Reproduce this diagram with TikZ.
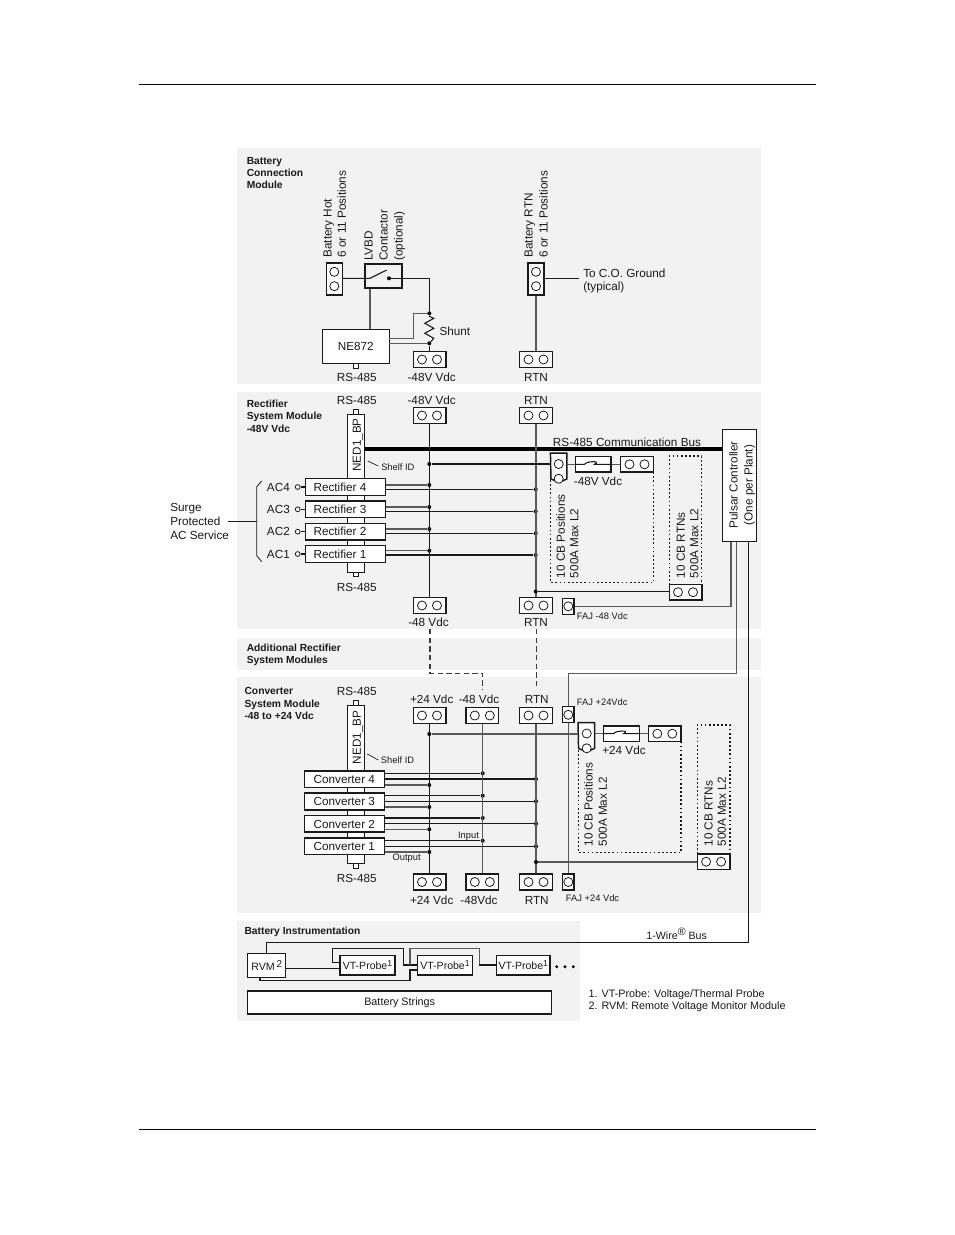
\documentclass[tikz,border=0pt]{standalone}
\usepackage{fontspec}
\setmainfont{Liberation Sans}
\usetikzlibrary{calc}
\definecolor{panelgray}{HTML}{F2F2F2}
\definecolor{wiregray}{HTML}{5A5A5A}
\definecolor{inkdark}{HTML}{1A1A1A}
\newcommand{\supnum}[1]{\raisebox{2.6pt}{\fontsize{6.5}{7}\selectfont #1}}
\tikzset{
  panel/.style={fill=panelgray,draw=none},
  boxn/.style={draw=inkdark,fill=white,line width=1.1pt,inner sep=0,text=inkdark},
  hconnbox/.style={boxn,minimum width=24.4pt,minimum height=11.8pt},
  vconnbox/.style={boxn,minimum width=12pt,minimum height=24pt},
  fajbox/.style={boxn,line width=.9pt,minimum width=8.4pt,minimum height=12pt},
  hole/.style={circle,draw=inkdark,line width=.6pt,fill=white,minimum size=6.8pt,inner sep=0},
  lbl/.style={font=\fontsize{8.8}{10}\selectfont,text=inkdark,inner sep=0,text height=6.4pt,text depth=0pt},
  lbr/.style={lbl,rotate=90,anchor=west},
  hdr/.style={font=\fontsize{7.7}{9}\bfseries\selectfont,text=inkdark,inner sep=0,anchor=west,text height=5.6pt,text depth=0pt},
  smalll/.style={font=\fontsize{7}{8}\selectfont,text=inkdark,inner sep=0,text height=5pt,text depth=0pt},
  wire/.style={draw=inkdark,line width=.8pt},
  gwire/.style={draw=wiregray,line width=1.1pt},
  dotw/.style={draw=inkdark,line width=.9pt,dash pattern=on 1.3pt off 1.8pt},
  dashw/.style={draw=inkdark!85,line width=.9pt,dash pattern=on 4pt off 2.5pt},
  jd/.style={circle,fill=black,inner sep=0,minimum size=3pt},
  stubn/.style={draw=inkdark,fill=white,line width=.7pt,inner sep=0,minimum width=4pt,minimum height=4pt},
  rbox/.style={boxn,minimum width=60pt,minimum height=12.6pt,font=\fontsize{8.8}{10}\selectfont},
  stripn/.style={draw=inkdark,fill=white,line width=.7pt,inner sep=0,minimum width=13pt},
}
\newcommand{\hconn}[3]{%
  \node[hconnbox] (#1) at (#2,#3) {};
  \node[hole] (#1-a) at ($(#1)+(-7.5,0)$) {};
  \node[hole] (#1-b) at ($(#1)+(7.5,0)$) {};}
\newcommand{\vconn}[3]{%
  \node[vconnbox] (#1) at (#2,#3) {};
  \node[hole] (#1-a) at ($(#1)+(0,-7.2)$) {};
  \node[hole] (#1-b) at ($(#1)+(0,7.2)$) {};}
\newcommand{\fajn}[3]{%
  \node[fajbox] (#1) at (#2,#3) {};
  \node[hole] (#1-a) at (#1) {};}
\begin{document}
\begin{tikzpicture}[x=0.75pt,y=-0.75pt]
\useasboundingbox (0,0) rectangle (954,1235);
\fill[white] (0,0) rectangle (954,1235);
% page rules
\coordinate (ruleTL) at (139,84.5); \coordinate (ruleTR) at (816,84.5);
\coordinate (ruleBL) at (139,1129.5); \coordinate (ruleBR) at (816,1129.5);
\draw[black,line width=.8pt] (ruleTL) -- (ruleTR);
\draw[black,line width=.8pt] (ruleBL) -- (ruleBR);
% panels
\fill[panel] (237,148) rectangle (761,384);
\fill[panel] (237,392) rectangle (761,629);
\fill[panel] (237,638) rectangle (761,670);
\fill[panel] (237,677) rectangle (761,913);
\fill[panel] (237,921) rectangle (580,1021);
% headers
\node[hdr] (h1a) at (246.5,161) {Battery};
\node[hdr] (h1b) at (246.5,173) {Connection};
\node[hdr] (h1c) at (246.5,185) {Module};
\node[hdr] (h2a) at (246.5,404) {Rectifier};
\node[hdr] (h2b) at (246.5,416) {System Module};
\node[hdr] (h2c) at (246.5,428.3) {-48V Vdc};
\node[hdr] (h3a) at (246.5,647.7) {Additional Rectifier};
\node[hdr] (h3b) at (246.5,660) {System Modules};
\node[hdr] (h4a) at (244.3,690.5) {Converter};
\node[hdr] (h4b) at (244.3,703.3) {System Module};
\node[hdr] (h4c) at (244.3,716) {-48 to +24 Vdc};
\node[hdr] (h5) at (244.3,931) {Battery Instrumentation};

%%% Battery connection module
\vconn{bh}{334.3}{279}
\vconn{br}{536}{279}
\node[boxn,fill=panelgray,line width=1pt,minimum width=27.7pt,minimum height=18pt] (lvbd) at (383.5,276) {};
\node[boxn,minimum width=50.2pt,minimum height=25.5pt,font=\fontsize{8.8}{10}\selectfont] (ne) at (355.8,346.3) {NE872};
\node[stubn] (nes) at (355.8,366) {};
\hconn{bm}{429.5}{359.5}
\hconn{bt}{536}{359.5}
\node[lbr] (t1) at (327.3,257.7) {Battery Hot};
\node[lbr] (t2) at (341.7,257.7) {6 or 11 Positions};
\node[lbr] (t3) at (368.3,261) {LVBD};
\node[lbr] (t4) at (383.3,261) {Contactor};
\node[lbr] (t5) at (398.3,261) {(optional)};
\node[lbr] (t6) at (528.3,257.7) {Battery RTN};
\node[lbr] (t7) at (543.3,257.7) {6 or 11 Positions};
\node[lbl,anchor=west] (t8) at (583,273) {To C.O. Ground};
\node[lbl,anchor=west] (t9) at (583,286.5) {(typical)};
\node[lbl,anchor=west] (t10) at (439.3,331) {Shunt};
\node[lbl] (t11) at (356.7,377) {RS-485};
\node[lbl] (t12) at (431.7,377) {-48V Vdc};
\node[lbl] (t13) at (536,377) {RTN};
\coordinate (swa) at (370,278.3);
\coordinate (swb) at (386.7,270);
\node[jd] (swd) at (389,278.3) {};
\coordinate (swe) at (429.3,278.3);
\node[jd] (sht) at (429.3,313.3) {};
\node[jd] (shb) at (429.3,343.3) {};
\coordinate (cox) at (579,278.3);
\draw[wire] (bh.east |- swa) -- (swa) -- (swb);
\draw[wire] (swd) -- (swe) -- (sht);
\draw[wire] (sht) -- ++(0,3) -- ++(4.5,2) -- ++(-9,5) -- ++(9,5) -- ++(-9,5) -- ++(9,5) -- (shb);
\draw[wire] (shb) -- (bm.north -| shb);
\draw[gwire] (lvbd.south -| 370,0) -- (ne.north -| 370,0);
\coordinate (nt1) at (389.3,338.3);
\coordinate (nt2) at (413.3,338.3);
\coordinate (nt3) at (413.3,313.3);
\coordinate (nt4) at (389.3,343.3);
\draw[gwire] (nt1) -- (nt2) -- (nt3) -- (sht);
\draw[gwire] (nt4) -- (shb);
\draw[wire] (br.east |- cox) -- (cox);
\draw[gwire] (br) -- (bt);

%%% Rectifier system module
\node[stubn] (rs1) at (356,412) {};
\node[stubn] (rs2) at (356,574) {};
\node[stripn,minimum height=118.5pt] (rned) at (356.2,493) {};
\node[lbl,rotate=90] (rnedt) at (356.7,445) {NED1\_BP};
\node[lbl] (t20) at (356.7,400) {RS-485};
\node[lbl] (t21) at (431.7,400) {-48V Vdc};
\node[lbl] (t22) at (536,400) {RTN};
\node[lbl] (t23) at (356.7,587) {RS-485};
\node[lbl] (t24) at (428.5,622.3) {-48 Vdc};
\node[lbl] (t25) at (536,622) {RTN};
\hconn{rm}{429.5}{415.5}
\hconn{rt}{536}{415.5}
\hconn{rmb}{429.5}{605.5}
\hconn{rtb}{536}{605.5}
\node[boxn,minimum width=25.8pt,minimum height=84.3pt] (puls) at (739.5,485.5) {};
\node[lbl,rotate=90] (t26) at (733.3,485) {Pulsar Controller};
\node[lbl,rotate=90] (t27) at (748.3,485) {(One per Plant)};
\node[lbl] (t28) at (627,442.7) {RS-485 Communication Bus};
\node[lbl] (t29) at (598,481.7) {-48V Vdc};
\node[lbr] (t30) at (560.7,578.3) {10 CB Positions};
\node[lbr] (t31) at (574,578.3) {500A Max L2};
\node[lbr] (t32) at (680.7,578.3) {10 CB RTNs};
\node[lbr] (t33) at (694,578.3) {500A Max L2};
\node[smalll,anchor=west] (t34) at (576.7,616) {FAJ -48 Vdc};
\node[smalll,anchor=west] (t35) at (381,467) {Shelf ID};
\coordinate (sl1) at (367.7,461); \coordinate (sl2) at (378.3,466);
\draw[wire,line width=.5pt] (sl1) -- (sl2);
% dotted outlines
\coordinate (dc1) at (550.7,480); \coordinate (dc2) at (550.7,582.7);
\coordinate (dc3) at (653.3,582.7); \coordinate (dc4) at (653.3,472);
\draw[dotw] (dc1) -- (dc2) -- (dc3) -- (dc4);
\coordinate (dr1) at (669.3,585); \coordinate (dr2) at (669.3,456);
\coordinate (dr3) at (701.7,456); \coordinate (dr4) at (701.7,585);
\draw[dotw] (dr1) -- (dr2) -- (dr3) -- (dr4);
% bus
\coordinate (busl) at (365,449);
\draw[black,line width=2.3pt] (busl) -- (busl -| puls.west);
% CB connector
\node[inner sep=0,minimum width=12pt,minimum height=19pt] (cb1) at (558.7,466) {};
\draw[boxn] (cb1.north west) -- (cb1.north east) -- (cb1.south east) -- ++(-8,3.4) -- ++(-8,-3.4) -- cycle;
\node[hole] (cb1-a) at (558.7,464) {};
\node[hole] (cb1-b) at (558.7,478.7) {};
\node[boxn,minimum width=26.8pt,minimum height=11.8pt] (f1) at (593.2,464.3) {};
\hconn{f1c}{637}{464.3}
\draw[wire] (f1.west) -- ++(10,0) .. controls ++(2,-3.6) and ++(7,-3.6) .. ++(10,0) -- (f1.east);
\draw[gwire,line width=.8pt] (cb1.east |- f1) -- (f1.west);
\draw[gwire,line width=.8pt] (f1.east) -- (f1c.west);
\hconn{rr}{685.5}{592.2}
\fajn{rfaj}{568.3}{606.3}
% rectifiers
\foreach \n/\y/\a/\b/\w/\ac in {4/487/485/489.3/1.1/AC4,3/509.3/507/511.3/.8/AC3,2/531.7/529/533.3/.7/AC2,1/554/550.7/555/.9/AC1}{
  \node[rbox] (r\n) at (345.7,\y) {};
  \node[lbl] (rl\n) at (340,\y) {Rectifier \n};
  \node[lbl,anchor=west] (ra\n) at (266.7,\y) {\ac};
  \node[circle,draw=inkdark,line width=.6pt,fill=white,inner sep=0,minimum size=3.6pt] (rc\n) at (297.7,\y) {};
  \draw[wire] (rc\n) -- (r\n.west);
  \node[jd] (rd\n) at (429.3,\a) {};
  \node[jd] (re\n) at (535.7,\b) {};
  \draw[gwire] (rd\n -| r\n.east) -- (rd\n);
  \draw[draw=inkdark,line width=\w pt] (re\n -| r\n.east) -- (re\n);
}
\draw[wire] (rm) -- (rmb);
\draw[gwire] (rt) -- (rtb);
\node[jd] (rs) at (429.3,464) {};
\draw[wire] (rs) -- (cb1.west |- rs);
\node[jd] (rrj) at (535.7,591.5) {};
\draw[wire] (rrj) -- (rr.west |- rrj);
% brace
\coordinate (b1) at (261.7,481); \coordinate (b2) at (256.7,486.7);
\coordinate (b3) at (256.7,555.7); \coordinate (b4) at (261.7,561.7);
\coordinate (b5) at (256.7,521);
\draw[wire,line width=.6pt] (b1) -- (b2) -- (b3) -- (b4);
\node[lbl,anchor=west] (s1) at (170,507.3) {Surge};
\node[lbl,anchor=west] (s2) at (170,521) {Protected};
\node[lbl,anchor=west] (s3) at (170,535) {AC Service};
\draw[wire,line width=.6pt] (s2.east -| 228.3,0) -- (b5);
% controller wires
\coordinate (p1) at (731,541.7); \coordinate (p2) at (736.5,541.7); \coordinate (p3) at (748.7,541.7);
\draw[gwire,line width=.8pt] (p1) |- (rfaj.east);

%%% Converter system module
\node[stubn] (cs1) at (356,703) {};
\node[stubn] (cs2) at (356,865.5) {};
\node[stripn,minimum height=118.5pt] (cned) at (356.2,784.5) {};
\node[lbl,rotate=90] (cnedt) at (356.7,737.5) {NED1\_BP};
\node[lbl] (t40) at (356.7,691) {RS-485};
\node[lbl] (t41) at (431.7,699.3) {+24 Vdc};
\node[lbl] (t42) at (479,699.3) {-48 Vdc};
\node[lbl] (t43) at (536.7,699.3) {RTN};
\node[lbl] (t44) at (356.7,878.3) {RS-485};
\node[lbl] (t45) at (431.7,900) {+24 Vdc};
\node[lbl] (t46) at (479,900) {-48Vdc};
\node[lbl] (t47) at (536.7,900) {RTN};
\hconn{cp}{429.5}{715.5}
\hconn{cm}{482.3}{715.5}
\hconn{ct}{536}{715.5}
\hconn{cpb}{429.5}{882}
\hconn{cmb}{482.3}{882}
\hconn{ctb}{536}{882}
\fajn{cfaj}{568.3}{714.8}
\fajn{cfajb}{568.3}{882}
\node[smalll,anchor=west] (t48) at (576.7,702.3) {FAJ +24Vdc};
\node[smalll,anchor=west] (t49) at (565.7,898.3) {FAJ +24 Vdc};
\node[smalll] (t50) at (468.5,835) {Input};
\node[smalll] (t51) at (406.7,857.3) {Output};
\node[smalll,anchor=west] (t52) at (380.7,760) {Shelf ID};
\coordinate (sc1) at (367.3,754); \coordinate (sc2) at (378.3,760);
\draw[wire,line width=.5pt] (sc1) -- (sc2);
\node[lbl] (t53) at (624,750.7) {+24 Vdc};
\node[lbr] (t54) at (588.3,846.7) {10 CB Positions};
\node[lbr] (t55) at (602.7,846.7) {500A Max L2};
\node[lbr] (t56) at (708.3,846.7) {10 CB RTNs};
\node[lbr] (t57) at (721.7,846.7) {500A Max L2};
\coordinate (ec1) at (578.3,750); \coordinate (ec2) at (578.3,852.3);
\coordinate (ec3) at (681,852.3); \coordinate (ec4) at (681,741);
\draw[dotw] (ec1) -- (ec2) -- (ec3) -- (ec4);
\coordinate (er1) at (697.3,854); \coordinate (er2) at (697.3,725);
\coordinate (er3) at (730,725); \coordinate (er4) at (730,854);
\draw[dotw] (er1) -- (er2) -- (er3) -- (er4);
\node[inner sep=0,minimum width=12pt,minimum height=19pt] (cb2) at (586.3,735.5) {};
\draw[boxn] (cb2.north west) -- (cb2.north east) -- (cb2.south east) -- ++(-8,3.4) -- ++(-8,-3.4) -- cycle;
\node[hole] (cb2-a) at (586.7,733.5) {};
\node[hole] (cb2-b) at (586.7,748.3) {};
\node[boxn,minimum width=27pt,minimum height=11.8pt] (f2) at (621.3,733.7) {};
\hconn{f2c}{664.8}{733.7}
\draw[wire] (f2.west) -- ++(11,0) .. controls ++(2,-3.6) and ++(7,-3.6) .. ++(10,0) -- (f2.east);
\draw[gwire,line width=.8pt] (cb2.east |- f2) -- (f2.west);
\draw[gwire,line width=.8pt] (f2.east) -- (f2c.west);
\hconn{cr}{713.6}{861.7}
\foreach \n/\y/\a/\b/\c in {4/779.2/773.3/779/785,3/801.5/795.7/801.3/807,2/823.8/818/823.7/829.3,1/846.3/840.7/846.3/852}{
  \node[rbox] (c\n) at (344.3,\y) {};
  \node[lbl] (cl\n) at (344.3,\y) {Converter \n};
  \node[jd] (cd\n) at (482.7,\a) {};
  \node[jd] (ce\n) at (536,\b) {};
  \node[jd] (cf\n) at (429.3,\c) {};
  \draw[wire] (cd\n -| c\n.east) -- (cd\n);
  \draw[wire] (ce\n -| c\n.east) -- (ce\n);
  \draw[gwire] (cf\n -| c\n.east) -- (cf\n);
}
\draw[wire,line width=1pt] (cp) -- (cpb);
\draw[gwire] (cm) -- (cmb);
\draw[gwire] (ct) -- (ctb);
\node[jd] (csj) at (429.3,734) {};
\draw[gwire] (csj) -- (cb2.west |- csj);
\node[jd] (crj) at (536,862) {};
\draw[gwire,line width=.8pt] (crj) -- (cr.west |- crj);
% dashed links
\coordinate (da1) at (430,673.3); \coordinate (da2) at (482.7,673.3);
\coordinate (da3) at (482.7,690); \coordinate (da0) at (430,629);
\coordinate (db0) at (536.7,629); \coordinate (db1) at (536.7,689);
\draw[dashw] (da0) -- (da1) -- (da2) -- (da3);
\draw[dashw,line width=1.1pt] (db0) -- (db1);
% controller to FAJ
\coordinate (c1) at (736.5,673.3);
\draw[gwire] (p2) -- (c1) -| (cfaj.north);
\draw[gwire] (cfaj.south) -- (cfajb.north);

%%% Battery instrumentation
\node[boxn,minimum width=28.5pt,minimum height=18pt,font=\fontsize{8}{10}\selectfont] (rvm) at (266.7,965.3) {RVM\,\raisebox{2.6pt}{\fontsize{7.5}{8}\selectfont 2}};
\node[boxn,minimum width=41.3pt,minimum height=14.5pt,font=\fontsize{7.9}{9}\selectfont] (vt1) at (367.5,965.3) {VT-Probe\supnum{1}};
\node[boxn,minimum width=41pt,minimum height=14.5pt,font=\fontsize{7.9}{9}\selectfont] (vt2) at (445,965.3) {VT-Probe\supnum{1}};
\node[boxn,minimum width=40pt,minimum height=14.5pt,font=\fontsize{7.9}{9}\selectfont] (vt3) at (523.3,965.3) {VT-Probe\supnum{1}};
\node[boxn,minimum width=228pt,minimum height=17.2pt,font=\fontsize{8.1}{10}\selectfont] (bs) at (399.7,1002.5) {Battery Strings};
\foreach \i/\x in {1/556.7,2/565,3/573.3}{\node[jd,minimum size=2.4pt] (el\i) at (\x,966.7) {};}
\coordinate (bt0) at (266.7,942.7);
\draw[wire] (p3) |- (bt0) -- (rvm.north);
\coordinate (w1) at (285.7,968.3);
\draw[wire] (w1) -- (w1 -| vt1.west);
% loops
\coordinate (l1) at (340,962.3); \coordinate (l2) at (332.7,962.3); \coordinate (l3) at (332.7,948.3);
\coordinate (l4) at (403.3,948.3); \coordinate (l5) at (403.3,965); \coordinate (l6) at (417.7,965);
\draw[wire,line width=1pt] (l1) -- (l2) -- (l3) -- (l4) -- (l5) -- (l6);
\coordinate (m1) at (260,977.3); \coordinate (m2) at (260,980.7); \coordinate (m3) at (410,980.7);
\coordinate (m4) at (410,970); \coordinate (m5) at (417.7,970);
\draw[wire,line width=1pt] (m1) -- (m2) -- (m3) -- (m4) -- (m5);
\coordinate (n1) at (410,965); \coordinate (n2) at (410,948.3); \coordinate (n3) at (479.3,948.3);
\coordinate (n4) at (479.3,965); \coordinate (n5) at (496.7,965);
\draw[gwire] (n1) -- (n2) -- (n3) -- (n4);
\draw[wire,line width=1pt] (n4) -- (n5);
\node[lbl,font=\fontsize{8}{10}\selectfont] (wb) at (676.7,935) {1-Wire\raisebox{3pt}{®} Bus};
\node[lbl,font=\fontsize{8.1}{10}\selectfont,anchor=west] (nt1a) at (588.3,993.3) {1. VT-Probe: Voltage/Thermal Probe};
\node[lbl,font=\fontsize{8.1}{10}\selectfont,anchor=west] (nt2a) at (588.3,1005.5) {2. RVM: Remote Voltage Monitor Module};
\end{tikzpicture}
\end{document}
